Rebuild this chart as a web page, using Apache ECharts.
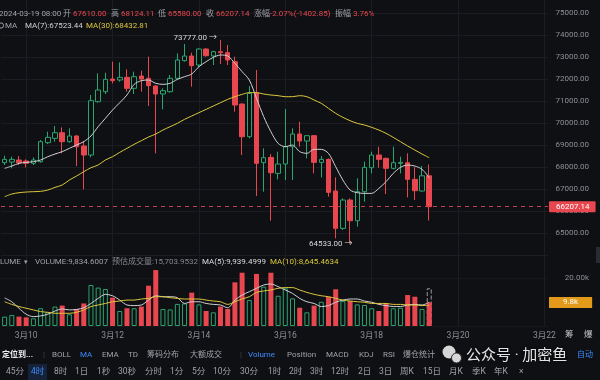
<!DOCTYPE html>
<html><head><meta charset="utf-8">
<script src="https://cdn.jsdelivr.net/npm/echarts@6/dist/echarts.min.js"></script>
<style>html,body{margin:0;padding:0;background:#0f1014;}#c{width:600px;height:380px;}</style>
</head><body><div id="c"></div>
<script>
// ---------- data ----------
const categories = [
'03-09 12:00','03-09 16:00','03-09 20:00',
'03-10 00:00','03-10 04:00','03-10 08:00','03-10 12:00','03-10 16:00','03-10 20:00',
'03-11 00:00','03-11 04:00','03-11 08:00','03-11 12:00','03-11 16:00','03-11 20:00',
'03-12 00:00','03-12 04:00','03-12 08:00','03-12 12:00','03-12 16:00','03-12 20:00',
'03-13 00:00','03-13 04:00','03-13 08:00','03-13 12:00','03-13 16:00','03-13 20:00',
'03-14 00:00','03-14 04:00','03-14 08:00','03-14 12:00','03-14 16:00','03-14 20:00',
'03-15 00:00','03-15 04:00','03-15 08:00','03-15 12:00','03-15 16:00','03-15 20:00',
'03-16 00:00','03-16 04:00','03-16 08:00','03-16 12:00','03-16 16:00','03-16 20:00',
'03-17 00:00','03-17 04:00','03-17 08:00','03-17 12:00','03-17 16:00','03-17 20:00',
'03-18 00:00','03-18 04:00','03-18 08:00','03-18 12:00','03-18 16:00','03-18 20:00',
'03-19 00:00','03-19 04:00','03-19 08:00','03-19 12:00','03-19 16:00','03-19 20:00',
'03-20 00:00','03-20 04:00','03-20 08:00','03-20 12:00','03-20 16:00','03-20 20:00',
'03-21 00:00','03-21 04:00','03-21 08:00','03-21 12:00','03-21 16:00','03-21 20:00',
'03-22 00:00'];
const dateTickCats = ['03-10 00:00','03-12 00:00','03-14 00:00','03-16 00:00','03-18 00:00','03-20 00:00','03-22 00:00'];
const dateTickLabels = ['3月10','3月12','3月14','3月16','3月18','3月20','3月22'];

const opens = [68205,68235,68326,68281,68175,68250,69113,69310,69567,69159,69416,68962,68553,70974,71428,72003,71958,72079,71580,72140,
72034,71686,71322,71428,72034,72836,73048,72639,73366,73048,73244,73199,72790,70868,69385,71383,68205,68447,67721,68145,
68931,69507,69189,69431,68220,68356,66919,65224,66510,65572,66889,67978,68553,68402,67948,68175,68205,67448,66919,67610];
const closes = [68356,68356,68205,68175,68326,69159,69355,69567,69159,69416,68932,68553,71020,71504,71988,71927,72079,71580,72109,72003,
71701,71322,71474,72034,72866,73048,72609,73366,73063,73244,73199,72866,70823,69385,71353,68175,68432,67751,68145,68931,
69507,69189,69431,68220,68356,66858,65224,66510,65572,66889,67993,68553,68356,67948,68205,68220,67448,66934,67609.99,66207.14];
const lows = [68099,67948,68099,67993,68099,68205,69053,69159,68629,69113,68054,66994,68447,70929,71322,71807,71882,71428,71322,71428,
70778,68629,70627,71383,71988,72790,71655,72533,73017,72639,72684,72639,70520,68553,69310,66692,66889,65572,67448,67418,
67418,68931,68402,67721,67539,66661,64770,65148,64533,65300,66435,67721,67978,66783,67903,67721,66631,66510,66889,65580];
const highs = [68523,68477,68508,68356,68447,69234,69612,69870,69809,69764,69461,69189,71277,72261,72291,72790,72760,72442,72336,72382,
73017,71731,71580,72185,73169,73592,73199,73396,73396,73290,73777,73547,73017,70899,71686,72412,68856,68598,68705,70642,
69764,70066,69461,69461,68508,68402,67539,66586,66586,67494,68250,68705,68931,68432,68931,68477,68629,67993,68054,68124.11];
const ma7 = [67948,68054,68175,68220,68250,68326,68477,68598,68705,68856,69007,69159,69416,69840,70218,70596,70929,71277,71761,71928,
71958,71807,71761,71807,71988,72109,72231,72563,72790,72987,73093,73048,72715,72336,71958,71126,70294,69612,69083,68931,
69007,68705,68629,68811,68811,68629,68024,67418,66964,66843,66813,66813,67040,67343,67721,67993,68099,68054,67903,67523.44];
const ma30 = [66661,66783,66843,66873,66889,66904,66964,67085,67191,67418,67600,67797,67978,68099,68326,68477,68674,68856,69038,69204,
69370,69507,69688,69840,69991,70173,70324,70475,70627,70778,70929,71080,71201,71307,71383,71383,71322,71277,71247,71201,
71201,71247,71201,71050,70899,70672,70445,70263,70112,69991,69915,69809,69688,69537,69355,69159,68962,68780,68598,68432.81];
const volumes = [3900,4600,3900,3600,3200,7400,5700,8100,8500,4900,7100,9400,17100,16000,15400,11800,6250,7400,7400,8100,
16800,23300,7100,6900,9200,9400,13900,9000,6250,5700,8100,7100,18200,22200,10800,21700,16400,22200,12600,15700,
11500,7600,5700,8500,10100,12200,15300,10400,10400,9000,8750,7400,6250,9400,7400,7600,12900,12200,7100,9834.6007];
const predictedVolume = 15703.9532;
const volMa5 = [11700,10100,7400,4900,3900,4200,4900,6250,7100,6700,6900,7600,9400,11500,13200,12600,10800,8750,8500,8750,
10800,12600,12200,12200,11800,9400,10100,10100,9400,9000,8750,7600,10800,12900,14300,15700,17100,17500,16400,15000,
13600,11500,10100,9400,8100,8500,9900,10800,11250,11250,10400,9900,9000,8500,8100,8100,8750,9000,8750,9939.4999];
const volMa10 = [10100,9000,8100,7400,6700,6000,5700,5300,5300,5300,5700,6700,8100,8750,9400,10100,10400,10800,10800,11250,
11500,12200,12200,11800,11500,11250,11250,11250,10800,10400,10100,9000,10100,11250,12200,14000,14600,15000,15700,16000,
16000,15000,14000,13200,12600,12200,11500,10800,10400,10100,9900,9400,9400,9400,9000,9000,8750,8750,8500,8645.4634];

// ---------- style ----------
const BG = '#0f1014', RED = '#e8474f', GREEN = '#2ba46e', GRAY = '#a0a2a8', AXIS = '#8c8f96', GRID = '#1c1d22';
const WHITE_MA = '#cfd0d4', YELLOW_MA = '#dcc83c', BLUE = '#3d8bff';
const FONT = 'Roboto, "Noto Sans CJK SC", sans-serif';

const n = closes.length, L = n - 1;
const candleData = opens.map((o, i) => [o, closes[i], lows[i], highs[i]]);
const prevClose = closes[L - 1];
const chg = closes[L] - prevClose;
const pct = chg / prevClose * 100;
const amp = (highs[L] - lows[L]) / prevClose * 100;
const hiIdx = highs.indexOf(Math.max(...highs));
const loIdx = lows.indexOf(Math.min(...lows));
const f2 = v => v.toFixed(2);
const fc = (v, d) => v.toLocaleString('en-US', {minimumFractionDigits: d, maximumFractionDigits: d});

function T(x, y, text, fill, size, weight, extra) {
  return Object.assign({type: 'text', x: x, y: y, silent: true, z: 100,
    style: Object.assign({text: text, fill: fill, fontSize: size || 8, fontFamily: FONT,
      fontWeight: weight || 'normal', verticalAlign: 'middle'}, extra || {})});
}

const gfx = [];
// header row
[[-1, '2024-' + categories[L], GRAY], [63, '开', GRAY], [73, f2(opens[L]), RED], [111, '高', GRAY],
 [121, f2(highs[L]), RED], [158, '低', GRAY], [168, f2(lows[L]), RED], [206, '收', GRAY], [216, f2(closes[L]), RED],
 [254, '涨幅', GRAY], [270, f2(pct) + '%(' + f2(chg) + ')', RED], [335, '振幅', GRAY], [353, f2(amp) + '%', RED]]
 .forEach(a => gfx.push(T(a[0], 14, a[1], a[2], 8)));
// MA row
gfx.push({type: 'circle', silent: true, z: 100, shape: {cx: 1, cy: 25.5, r: 2.6}, style: {fill: 'none', stroke: GRAY, lineWidth: 1}});
gfx.push(T(5, 25.5, 'MA', GRAY, 8));
gfx.push(T(25, 25.5, 'MA(7):' + f2(ma7[L]), WHITE_MA, 8));
gfx.push(T(86, 25.5, 'MA(30):' + f2(ma30[L]), YELLOW_MA, 8));
// volume row
gfx.push(T(0, 262, 'LUME', GRAY));
gfx.push(T(24, 262, '▾', GRAY, 7));
gfx.push(T(35, 262, 'VOLUME:' + fc(volumes[L], 4), GRAY));
gfx.push(T(112, 262, '预估成交量:' + fc(predictedVolume, 4), '#85878d'));
gfx.push(T(202, 262, 'MA(5):' + fc(volMa5[L], 4), '#dadbe0'));
gfx.push(T(270, 262, 'MA(10):' + fc(volMa10[L], 4), YELLOW_MA));
// right side bits
gfx.push(T(565, 335, '筹', '#c8c9cd', 8.5));
gfx.push(T(584, 335, '爆', '#c8c9cd', 8.5));
gfx.push({type: 'rect', silent: true, z: 100, shape: {x: 596, y: 247, width: 4, height: 16}, style: {fill: '#2a2b31'}});
// indicator row
[[2, '定位到...', '#f0f0f0', 'bold'], [43, '|', '#44464c'], [52, 'BOLL', GRAY], [80, 'MA', BLUE], [102, 'EMA', GRAY], [128, 'TD', GRAY],
 [147, '筹码分布', GRAY], [190, '大额成交', GRAY], [240, '|', '#44464c'], [248, 'Volume', BLUE], [287, 'Position', GRAY],
 [326, 'MACD', GRAY], [359, 'KDJ', GRAY], [383, 'RSI', GRAY], [403, '爆仓统计', GRAY], [577, '自动', BLUE]]
 .forEach(a => gfx.push(T(a[0], 355, a[1], a[2], 8, a[3])));
// watermark
gfx.push({type: 'circle', silent: true, z: 101, shape: {cx: 449, cy: 352, r: 6.5}, style: {fill: '#d6d6d6'}});
gfx.push({type: 'circle', silent: true, z: 102, shape: {cx: 456.5, cy: 358, r: 5}, style: {fill: '#d6d6d6', stroke: '#2a2b30', lineWidth: 1}});
gfx.push(T(466, 356, '公众号 · 加密鱼', '#e4e4e4', 15, 'normal', {textShadowColor: 'rgba(0,0,0,0.7)', textShadowBlur: 3}));
// bottom row
gfx.push({type: 'rect', silent: true, z: 99, shape: {x: 28, y: 364, width: 19, height: 16}, style: {fill: '#15223a'}});
[[6, '45分'], [31, '4时'], [54, '8时'], [75, '1日'], [97, '1秒'], [118, '30秒'], [145, '分时'], [170, '1分'], [192, '5分'],
 [213, '10分'], [240, '30分'], [268, '1时'], [289, '2时'], [310, '3时'], [331, '12时'], [358, '2日'], [379, '3日'],
 [400, '周K'], [423, '15日'], [449, '月K'], [472, '季K'], [494, '年K'], [519, '×']]
 .forEach(a => gfx.push(T(a[0], 372, a[1], a[1] === '4时' ? BLUE : GRAY, 8.5)));

const chart = echarts.init(document.getElementById('c'), null, {renderer: 'canvas'});
const cw = 547, nc = categories.length;
chart.setOption({
  backgroundColor: BG,
  animation: false,
  textStyle: {fontFamily: FONT},
  grid: [
    {left: 1, top: 13, width: cw, height: 242.33},
    {left: 1, top: 278, width: cw, height: 48},
    {left: 1 + 0.5 * cw / nc, top: 0, width: cw * (nc - 1) / nc, height: 326}
  ],
  xAxis: [
    {type: 'category', gridIndex: 0, data: categories, boundaryGap: true, axisLine: {show: false}, axisTick: {show: false}, axisLabel: {show: false}, splitLine: {show: false}},
    {type: 'category', gridIndex: 1, data: categories, boundaryGap: true, axisLine: {show: false}, axisTick: {show: false}, splitLine: {show: false},
     axisLabel: {show: true, color: AXIS, fontSize: 8.5, margin: 6,
       interval: (i, v) => dateTickCats.indexOf(v) >= 0,
       formatter: v => dateTickLabels[dateTickCats.indexOf(v)] || ''}},
    {type: 'category', gridIndex: 2, data: categories, boundaryGap: false, axisLine: {show: false}, axisTick: {show: false}, axisLabel: {show: false},
     splitLine: {show: true, interval: (i, v) => dateTickCats.indexOf(v) >= 0, lineStyle: {color: GRID, width: 1}}}
  ],
  yAxis: [
    {type: 'value', gridIndex: 0, position: 'right', min: 64000, max: 75000, interval: 1000,
     axisLine: {show: false}, axisTick: {show: false},
     axisLabel: {color: AXIS, fontSize: 8, align: 'right', margin: 41, formatter: v => (v === 64000 ? '' : v.toFixed(2))},
     splitLine: {show: true, lineStyle: {color: GRID, width: 1}}},
    {type: 'value', gridIndex: 1, position: 'right', min: 0, max: 20000, interval: 20000,
     axisLine: {show: false}, axisTick: {show: false},
     axisLabel: {color: AXIS, fontSize: 8, align: 'right', margin: 41, formatter: v => (v === 20000 ? (v / 1000).toFixed(2) + 'k' : '')},
     splitLine: {show: true, lineStyle: {color: '#17181c', width: 1}}},
    {type: 'value', gridIndex: 2, show: false}
  ],
  series: [
    {type: 'candlestick', xAxisIndex: 0, yAxisIndex: 0, data: candleData, barWidth: 5, z: 3,
     itemStyle: {color: BG, color0: RED, borderColor: GREEN, borderColor0: RED, borderWidth: 1},
     markLine: {silent: true, symbol: 'none', animation: false,
       data: [{yAxis: closes[L]}],
       lineStyle: {color: '#c2434a', type: [4, 4], width: 1},
       label: {show: true, position: 'end', distance: 1, formatter: f2(closes[L]), color: '#fff', fontSize: 8,
         backgroundColor: RED, padding: [2, 6, 1, 7], borderRadius: 1}},
     markPoint: {silent: true, symbol: 'rect', symbolSize: 1, itemStyle: {color: 'rgba(0,0,0,0)'},
       label: {show: true, color: '#d8d8da', fontSize: 8},
       data: [
         {coord: [categories[hiIdx], highs[hiIdx]], label: {position: 'left', distance: 3, offset: [0, -2], formatter: f2(highs[hiIdx]) + ' →'}},
         {coord: [categories[loIdx], lows[loIdx]], label: {position: 'left', distance: 0, offset: [3, 0], formatter: f2(lows[loIdx]) + ' →'}}
       ]}},
    {type: 'line', xAxisIndex: 0, yAxisIndex: 0, data: ma7, showSymbol: false, smooth: 0.3, z: 4, lineStyle: {color: WHITE_MA, width: 1}},
    {type: 'line', xAxisIndex: 0, yAxisIndex: 0, data: ma30, showSymbol: false, smooth: 0.3, z: 4, lineStyle: {color: YELLOW_MA, width: 1}},
    {type: 'bar', xAxisIndex: 1, yAxisIndex: 1, barWidth: 5, barGap: '-100%', clip: false, z: 2,
     data: volumes.map((v, i) => (i === L ? predictedVolume : '-')),
     itemStyle: {color: 'rgba(0,0,0,0)', borderColor: '#9a9ba0', borderType: 'dashed', borderWidth: 1}},
    {type: 'bar', xAxisIndex: 1, yAxisIndex: 1, barWidth: 5, barGap: '-100%', clip: false, z: 3,
     data: volumes.map((v, i) => ({value: v, itemStyle: closes[i] >= opens[i]
        ? {color: BG, borderColor: GREEN, borderWidth: 1} : {color: RED}})),
     markLine: {silent: true, symbol: 'none', animation: false, data: [{yAxis: volumes[L]}],
       lineStyle: {color: 'rgba(0,0,0,0)', width: 1},
       label: {show: true, position: 'end', distance: 1, formatter: (volumes[L] / 1000).toFixed(1) + 'k', color: '#fff', fontSize: 8,
         backgroundColor: '#e39a1a', padding: [2, 14, 1, 14]}}},
    {type: 'line', xAxisIndex: 1, yAxisIndex: 1, data: volMa5, showSymbol: false, smooth: 0.3, z: 5, lineStyle: {color: WHITE_MA, width: 1}},
    {type: 'line', xAxisIndex: 1, yAxisIndex: 1, data: volMa10, showSymbol: false, smooth: 0.3, z: 5, lineStyle: {color: YELLOW_MA, width: 1}}
  ],
  graphic: gfx
});
</script></body></html>
